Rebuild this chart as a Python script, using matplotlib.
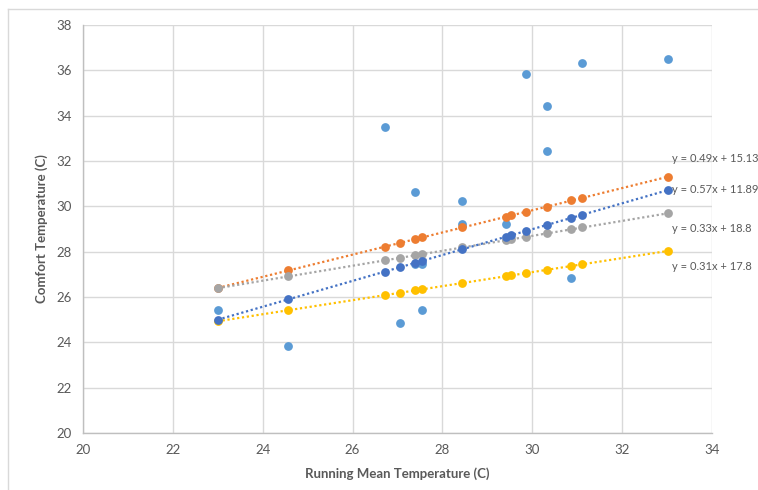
import matplotlib
matplotlib.use("Agg")
import matplotlib.pyplot as plt
from matplotlib.lines import Line2D

plt.rcParams['font.family'] = ['Lato', 'DejaVu Sans']

# Observed data (light blue)
obs_x = [23.0, 24.57, 26.72, 27.06, 27.38, 27.38, 27.55, 27.55, 28.44, 28.44,
         29.42, 29.86, 30.32, 30.32, 30.87, 31.11, 33.01]
obs_y = [25.41, 23.85, 33.52, 24.85, 30.63, 27.44, 27.47, 25.41, 30.25, 29.23,
         29.2, 35.84, 34.42, 32.42, 26.84, 36.31, 36.5]

# Model temperatures (shared x)
model_x = [23.0, 24.57, 26.72, 27.06, 27.38, 27.55, 28.44, 29.42, 29.53, 29.86,
           30.32, 30.87, 31.11, 33.01]
orange_y = [26.4, 27.17, 28.22, 28.39, 28.55, 28.63, 29.07, 29.55, 29.6, 29.76,
            29.99, 30.26, 30.37, 31.3]
darkblue_y = [25.0, 25.89, 27.12, 27.31, 27.5, 27.59, 28.1, 28.66, 28.72, 28.91,
              29.17, 29.49, 29.62, 30.71]
gray_y = [26.39, 26.91, 27.62, 27.73, 27.84, 27.89, 28.19, 28.51, 28.54, 28.65,
          28.81, 28.99, 29.07, 29.69]
yellow_y = [24.93, 25.42, 26.08, 26.19, 26.29, 26.34, 26.62, 26.92, 26.95, 27.06,
            27.2, 27.37, 27.44, 28.03]

eq_labels = ["y = 0.49x + 15.13", "y = 0.57x + 11.89", "y = 0.33x + 18.8", "y = 0.31x + 17.8"]
eq_y = [32.1, 30.75, 29.02, 27.35]

c_light = "#5B9BD5"
c_orange = "#ED7D31"
c_gray = "#A5A5A5"
c_yellow = "#FFC000"
c_dark = "#4472C4"

W, H = 758, 490
fig = plt.figure(figsize=(W / 100, H / 100), dpi=100)
ax = fig.add_axes([83 / W, 1 - 433 / H, (712 - 83) / W, (433 - 25) / H])

# chart border
fig.add_artist(Line2D([8 / W, 1], [1 - 9 / H, 1 - 9 / H], transform=fig.transFigure, color="#D9D9D9", lw=1))
fig.add_artist(Line2D([8 / W, 8 / W], [0, 1 - 9 / H], transform=fig.transFigure, color="#D9D9D9", lw=1))

ms = 40
series = [(orange_y, c_orange), (gray_y, c_gray), (yellow_y, c_yellow), (darkblue_y, c_dark)]
ax.scatter(obs_x, obs_y, s=ms, color=c_light, zorder=3, linewidths=0)
for ys, c in series:
    ax.scatter(model_x, ys, s=ms, color=c, zorder=4, linewidths=0)
    ax.plot([model_x[0], model_x[-1]], [ys[0], ys[-1]], color=c, lw=1.6,
            linestyle=(0, (1, 1.2)), zorder=2)

for lab, yy in zip(eq_labels, eq_y):
    ax.text(33.12, yy, lab, fontsize=8, color="#595959", va="center", ha="left", clip_on=False)

ax.set_xlim(20, 34)
ax.set_ylim(20, 38)
ax.set_xticks(range(20, 35, 2))
ax.set_yticks(range(20, 39, 2))
ax.grid(True, color="#D9D9D9", lw=1)
ax.set_axisbelow(True)
for s in ["top", "right"]:
    ax.spines[s].set_visible(False)
for s in ["left", "bottom"]:
    ax.spines[s].set_color("#BFBFBF")
    ax.spines[s].set_linewidth(1)
ax.tick_params(length=0, labelsize=9.5, colors="#595959", pad=8)
ax.set_xlabel("Running Mean Temperature (C)", fontsize=9.5, fontweight="bold", color="#595959", labelpad=8)
ax.set_ylabel("Comfort Temperature (C)", fontsize=9.5, fontweight="bold", color="#595959", labelpad=6)

fig.savefig("out.png", dpi=100)
